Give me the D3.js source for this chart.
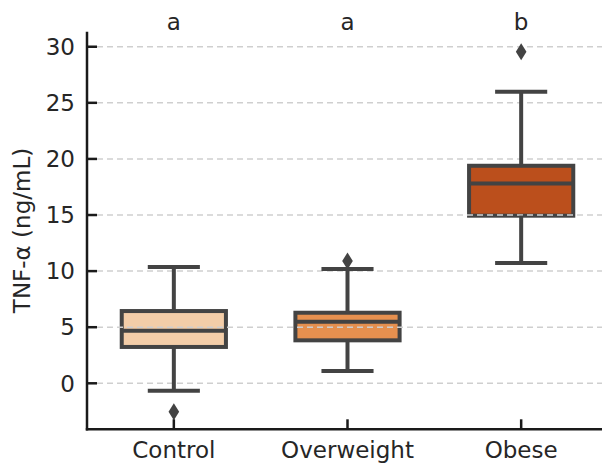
<!DOCTYPE html>
<html lang="en">
<head>
<meta charset="utf-8">
<title>TNF-alpha boxplot</title>
<script src="https://cdn.jsdelivr.net/npm/d3@7"></script>
<style>
  body { margin: 0; padding: 0; overflow: hidden; background: #fff; }
  text { font-family: "DejaVu Sans", sans-serif; fill: #262626; }
  .grid line { stroke: #cfcfcf; stroke-width: 1.5px; stroke-dasharray: 6 4; }
  .edge { stroke: #434343; stroke-width: 4px; }
</style>
</head>
<body>
<script>
// values
var groups = ["Control", "Overweight", "Obese"];
var q1 = [3.24, 3.83, 14.94];
var medians = [4.69, 5.49, 17.82];
var q3 = [6.44, 6.29, 19.39];
var whiskLow = [-0.66, 1.10, 10.72];
var whiskHigh = [10.37, 10.19, 25.99];
var fliers = [[-2.53], [10.9], [29.55]];
var letters = ["a", "a", "b"];
var yTicks = [0, 5, 10, 15, 20, 25, 30];
var fills = ["#f3cda8", "#e6904f", "#bb4f1c"];

var W = 602, H = 463;

var svg = d3.select("body").append("svg")
    .attr("width", W)
    .attr("height", H);

var x = d3.scaleLinear().domain([-0.5, 2.5]).range([87, 608]);
var y = d3.scaleLinear().domain([-4.1, 31.34]).range([429.3, 31.7]);
var boxW = x(0.3) - x(0);   // half width of a box
var capW = x(0.15) - x(0);

// boxes (under the grid)
svg.selectAll("rect.box").data(groups).enter().append("rect")
    .attr("class", "box edge")
    .attr("x", function(d, i) { return x(i) - boxW; })
    .attr("y", function(d, i) { return y(q3[i]); })
    .attr("width", boxW * 2)
    .attr("height", function(d, i) { return y(q1[i]) - y(q3[i]); })
    .attr("fill", function(d, i) { return fills[i]; });

// dashed grid
var grid = svg.append("g").attr("class", "grid");
grid.selectAll("line").data(yTicks).enter().append("line")
    .attr("x1", x(-0.5) + 10)
    .attr("x2", W)
    .attr("y1", function(d) { return y(d); })
    .attr("y2", function(d) { return y(d); });

// whiskers, caps, medians
var g = svg.append("g").attr("class", "edge").attr("fill", "none");
groups.forEach(function(d, i) {
  g.append("line").attr("x1", x(i)).attr("x2", x(i))
    .attr("y1", y(q3[i])).attr("y2", y(whiskHigh[i]));
  g.append("line").attr("x1", x(i)).attr("x2", x(i))
    .attr("y1", y(q1[i])).attr("y2", y(whiskLow[i]));
  [whiskLow[i], whiskHigh[i]].forEach(function(v) {
    g.append("line").attr("x1", x(i) - capW).attr("x2", x(i) + capW)
      .attr("y1", y(v)).attr("y2", y(v));
  });
  g.append("line").attr("x1", x(i) - boxW).attr("x2", x(i) + boxW)
    .attr("y1", y(medians[i])).attr("y2", y(medians[i]));
  fliers[i].forEach(function(v) {
    svg.append("path")
      .attr("d", "M0,-8.5L5.3,0L0,8.5L-5.3,0Z")
      .attr("transform", "translate(" + x(i) + "," + y(v) + ")")
      .attr("fill", "#434343");
  });
});

// spines and ticks
var axisCol = "#1a1a1a";
svg.append("line").attr("x1", x(-0.5)).attr("x2", x(-0.5))
    .attr("y1", y.range()[1]).attr("y2", y.range()[0] + 1.2)
    .attr("stroke", axisCol).attr("stroke-width", 2.5);
svg.append("line").attr("x1", x(-0.5) - 1.2).attr("x2", W)
    .attr("y1", y.range()[0]).attr("y2", y.range()[0])
    .attr("stroke", axisCol).attr("stroke-width", 2.5);

var yt = svg.append("g");
yTicks.forEach(function(t) {
  yt.append("line").attr("x1", x(-0.5)).attr("x2", x(-0.5) + 10)
    .attr("y1", y(t)).attr("y2", y(t))
    .attr("stroke", axisCol).attr("stroke-width", 2.5);
  yt.append("text").attr("x", 75).attr("y", y(t))
    .attr("text-anchor", "end").attr("dy", "0.36em")
    .attr("font-size", 23).text(t);
});

groups.forEach(function(d, i) {
  svg.append("line").attr("x1", x(i)).attr("x2", x(i))
    .attr("y1", y.range()[0]).attr("y2", y.range()[0] - 10)
    .attr("stroke", axisCol).attr("stroke-width", 2.5);
  svg.append("text").attr("x", x(i)).attr("y", 458)
    .attr("text-anchor", "middle").attr("font-size", 23).text(d);
  svg.append("text").attr("x", x(i)).attr("y", 30)
    .attr("text-anchor", "middle").attr("font-size", 23).text(letters[i]);
});

svg.append("text")
    .attr("transform", "translate(30," + ((y.range()[0] + y.range()[1]) / 2) + ") rotate(-90)")
    .attr("text-anchor", "middle")
    .attr("font-size", 23)
    .text("TNF-α (ng/mL)");
</script>
</body>
</html>
